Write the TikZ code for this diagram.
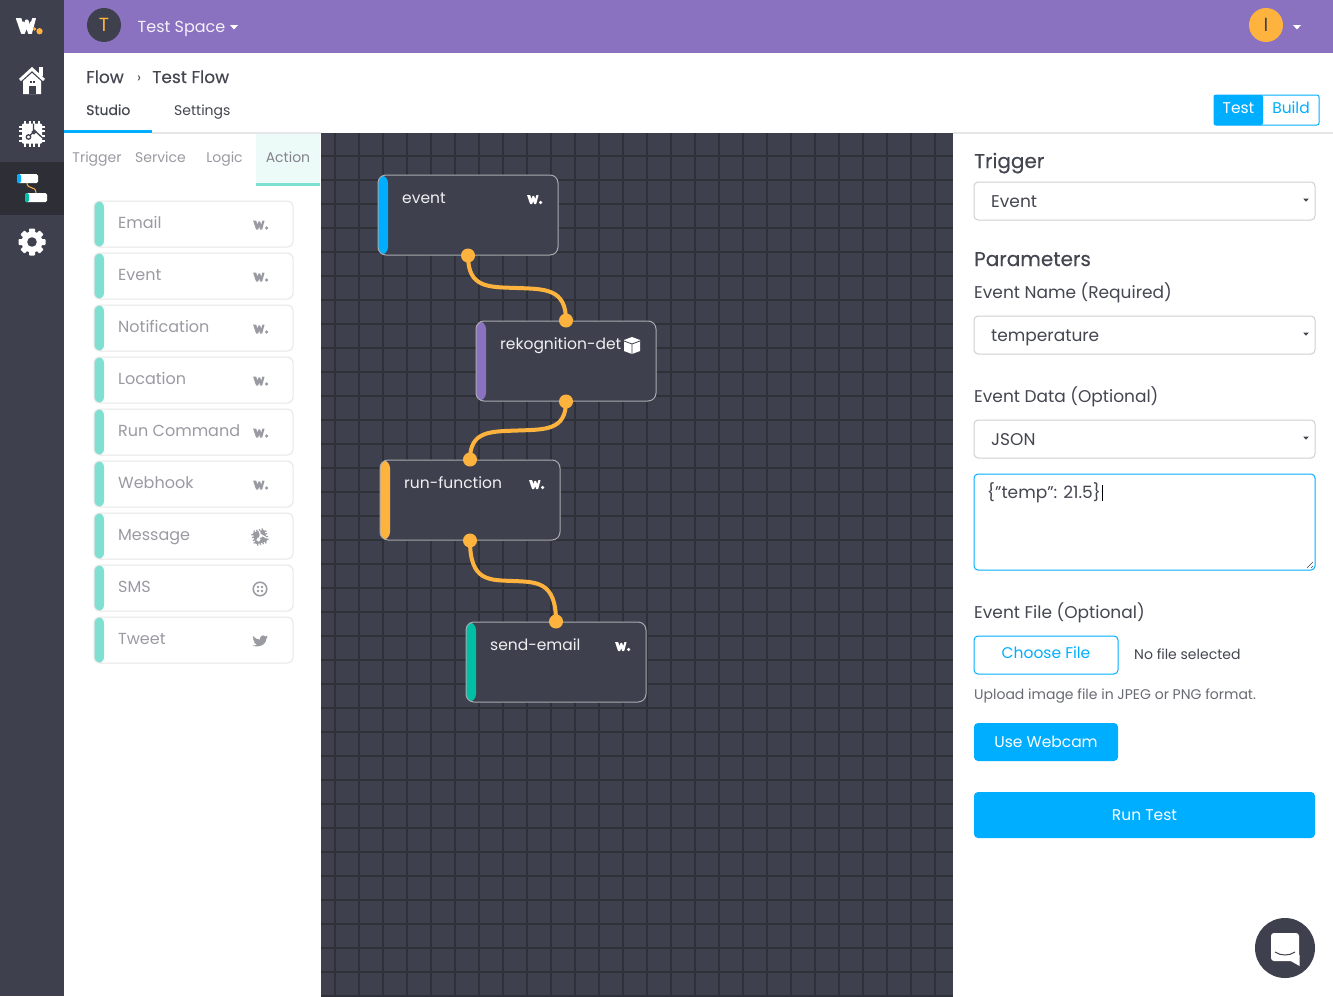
\documentclass[tikz,border=0pt]{standalone}
\usepackage{fontspec}
\setmainfont{Poppins}
\newfontfamily\midfont[FakeBold=0.3]{Poppins}
\usetikzlibrary{calc}

\begin{document}
\begin{tikzpicture}[
    x=1pt, y=-1pt,
    font=\fontsize{16}{19}\selectfont,
    txt/.style={
    	anchor=base west, inner sep=0pt, text=my-ink
    }, listtxt/.style={
    	txt, text=my-grey, font=\fontsize{16}{19}\selectfont
    }, tabtxt/.style={
    	anchor=base, inner sep=0pt, text=my-grey, font=\fontsize{14}{17}\selectfont
    }, formtxt/.style={
    	txt, font=\fontsize{17}{20}\selectfont
    }, cardtxt/.style={
    	txt, text=white!92!my-slate, font=\fontsize{15.5}{19}\selectfont
    }, strip/.style 2 args={
    	path picture={\fill[#1] (path picture bounding box.north west) rectangle ([xshift=#2]path picture bounding box.south west);}
    }, card/.style={
    	draw=my-edge, fill=my-slate, rounded corners=8pt, line width=1pt,
    	minimum width=180pt, minimum height=80pt, inner sep=0pt, strip={#1}{10pt}
    }, item/.style={
    	draw=my-line, fill=white, rounded corners=6pt, line width=1pt,
    	minimum width=199pt, minimum height=46pt, inner sep=0pt, strip={my-teal}{10pt}
    }, field/.style={
    	draw=my-field, fill=white, rounded corners=4pt, line width=1pt,
    	minimum width=341pt, minimum height=38pt, inner sep=0pt
    }, bluebtn/.style={
    	fill=my-blue, rounded corners=4pt, inner sep=0pt, text=white,
    	font=\fontsize{15.5}{19}\selectfont
    }, port/.style={
    	circle, fill=my-orange, minimum size=14pt, inner sep=0pt
    }, wire/.style={
    	draw=my-orange, line width=4pt
    }, avatar/.style={
    	circle, minimum size=34pt, inner sep=0pt, font=\fontsize{19}{22}\selectfont
    }, pics/wmark/.style 2 args={code={
    	\path[fill=#1, rounded corners=.4pt] (-7,-4.5) -- (-3.8,-4.5) -- (-2.6,-.4) -- (-1.5,-3.6) -- (.1,-3.6) -- (1.2,-.4) -- (2.4,-4.5) -- (4.6,-4.5) -- (2.2,4.5) -- (.1,4.5) -- (-.8,1.5) -- (-1.8,4.5) -- (-3.9,4.5) -- cycle;
    	\fill[#2] (6.6,3) circle (1.8);
    }}, pics/caret/.style={code={
    	\fill[#1] (-4,-2) -- (4,-2) -- (0,2.5) -- cycle;
    }}, pics/chip/.style 2 args={code={
    	\fill[#1, rounded corners=1pt] (-10,-10) rectangle (10,10);
    	\foreach \p in {-7,-2.4,2.4,7} {
    		\fill[#1] (\p-1,-13) rectangle (\p+1,13);
    		\fill[#1] (-13,\p-1) rectangle (13,\p+1);
    	}
    	\draw[#2, line width=1.3pt] (1.5,-10) -- (1.5,-4) -- (10,4);
    	\draw[#2, line width=1.3pt] (-3.5,3.5) circle (2.2);
    	\draw[#2, line width=1.3pt] (-2,2) -- (2,-2);
    	\draw[#2, line width=1.3pt] (2,-1.5) circle (1.6);
    }}]
    \definecolor{my-slate}{HTML}{3E414D}
    \definecolor{my-dark}{HTML}{2E2E36}
    \definecolor{my-gridline}{HTML}{2F3138}
    \definecolor{my-purple}{HTML}{8B72C1}
    \definecolor{my-blue}{HTML}{00AEFF}
    \definecolor{my-teal}{HTML}{7FDFD0}
    \definecolor{my-green}{HTML}{00BFA5}
    \definecolor{my-orange}{HTML}{FFB33F}
    \definecolor{my-ink}{HTML}{444650}
    \definecolor{my-grey}{HTML}{9A9AA3}
    \definecolor{my-line}{HTML}{E6E6E8}
    \definecolor{my-field}{HTML}{CFCFD3}
    \definecolor{my-edge}{HTML}{A9AAB0}

    \useasboundingbox (0,0) rectangle (1333,996);
    \fill[white] (0,0) rectangle (1333,996);

    % panels
    \fill[my-slate] (0,0) rectangle (64,996);
    \fill[my-dark] (0,162) rectangle (64,215);
    \fill[my-purple] (64,0) rectangle (1333,53);
    \fill[my-slate] (321,133) rectangle (953,996);
    \draw[my-gridline, line width=2pt, xstep=24pt, ystep=24pt, shift={(334.5,156)}] (-13.5,-23) grid (618.5,840);
    \fill[my-line] (152,132) rectangle (321,134);
    \fill[my-line] (953,132) rectangle (1333,134);
    \fill[my-blue] (64,130) rectangle (152,133);
    \fill[my-teal!15] (256,134) rectangle (320,183);
    \fill[my-teal] (256,183) rectangle (320,186);

    % sidebar icons
    \pic at (28,26) {wmark={white}{my-orange}};
    \path (28,26) pic[scale=1.75] {wmark={white}{my-orange}};
    \draw[white, line width=3pt] (20,80) -- (32,69) -- (44,80);
    \fill[white] (39,67) rectangle (43,76);
    \fill[white] (23,81) -- (32,73) -- (41,81) -- (41,94) -- (23,94) -- cycle;
    \fill[my-slate] (28.5,86) rectangle (35.5,94);
    \fill[my-slate] (29.5,80.5) rectangle (31.5,82.5);
    \fill[my-slate] (32.5,80.5) rectangle (34.5,82.5);
    \pic at (32,133.5) {chip={white}{my-slate}};
    \fill[white, rounded corners=1.5pt] (17,174) rectangle (38,183);
    \fill[my-blue, rounded corners=1.5pt] (17,174) rectangle (21,183);
    \fill[white, rounded corners=1.5pt] (25,193) rectangle (47,202);
    \fill[my-green, rounded corners=1.5pt] (25,193) rectangle (29,202);
    \draw[my-orange, line width=1pt] (27,183) .. controls (27,190) and (36,185) .. (36,193);
    \foreach \a in {0,45,...,315} {
    	\fill[white, rotate around={\a:(32,242)}, rounded corners=.8pt] (29,228.5) rectangle (35,236);
    }
    \fill[white] (32,242) circle (10.5);
    \fill[my-slate] (32,242) circle (4.8);

    % header
    \node[avatar, fill=my-slate, text=my-orange] (space-avatar) at (104,25) {T};
    \node[txt, text=white!90!my-purple] (space-name) at (137.5,32) {Test Space};
    \pic at (234,27) {caret=white};
    \node[avatar, fill=my-orange, text=my-slate] (user-avatar) at (1266,25) {I};
    \pic at (1297,27) {caret=white};
    \node[txt, font=\midfont\fontsize{17}{20}\selectfont] (crumb-flow) at (86,83) {Flow};
    \node[txt, font=\fontsize{14}{17}\selectfont] (crumb-sep) at (137,82) {›};
    \node[txt, font=\midfont\fontsize{17}{20}\selectfont] (crumb-test) at (152,83) {Test Flow};
    \node[txt, font=\midfont\fontsize{14}{17}\selectfont] (studio) at (86,115) {Studio};
    \node[txt, font=\fontsize{14}{17}\selectfont] (settings) at (174,115) {Settings};
    \node[draw=my-blue, fill=white, rounded corners=2pt, line width=1pt, minimum width=105pt, minimum height=30pt, inner sep=0pt, strip={my-blue}{49pt}] (mode) at (1266.5,110) {};
    \node[anchor=base, inner sep=0pt, text=white, font=\fontsize{15.5}{19}\selectfont] (mode-test) at (1238.5,113) {Test};
    \node[anchor=base, inner sep=0pt, text=my-blue, font=\fontsize{15.5}{19}\selectfont] (mode-build) at (1291,113) {Build};

    % block tabs
    \node[tabtxt] (tab-trigger) at (97,162.5) {Trigger};
    \node[tabtxt] (tab-service) at (160.5,162.5) {Service};
    \node[tabtxt] (tab-logic) at (224.5,162.5) {Logic};
    \node[tabtxt, text=my-grey!85!black] (tab-action) at (288,162.5) {Action};

    % block list
    \node[item] (email) at (193.5,224) {};
    \node[listtxt] (email-txt) at (118,228) {Email};
    \pic at (260,225) {wmark={my-grey}{my-grey}};
    \node[item] (event-item) at (193.5,276) {};
    \node[listtxt] (event-txt) at (118,280) {Event};
    \pic at (260,277) {wmark={my-grey}{my-grey}};
    \node[item] (notification) at (193.5,328) {};
    \node[listtxt] (notification-txt) at (118,332) {Notification};
    \pic at (260,329) {wmark={my-grey}{my-grey}};
    \node[item] (location) at (193.5,380) {};
    \node[listtxt] (location-txt) at (118,384) {Location};
    \pic at (260,381) {wmark={my-grey}{my-grey}};
    \node[item] (command) at (193.5,432) {};
    \node[listtxt] (command-txt) at (118,436) {Run Command};
    \pic at (260,433) {wmark={my-grey}{my-grey}};
    \node[item] (webhook) at (193.5,484) {};
    \node[listtxt] (webhook-txt) at (118,488) {Webhook};
    \pic at (260,485) {wmark={my-grey}{my-grey}};
    \node[item] (message) at (193.5,536) {};
    \node[listtxt] (message-txt) at (118,540) {Message};
    \pic[scale=.6, rotate=15] at (260,537) {chip={my-grey}{white}};
    \node[item] (sms) at (193.5,588) {};
    \node[listtxt] (sms-txt) at (118,592) {SMS};
    \draw[my-grey, line width=1.5pt] (260,589) circle (6.8);
    \fill[my-grey] (258,587) circle (1.4) (262,587) circle (1.4) (258,591) circle (1.4) (262,591) circle (1.4);
    \node[item] (tweet) at (193.5,640) {};
    \node[listtxt] (tweet-txt) at (118,644) {Tweet};
    \fill[my-grey, shift={(260,641)}] (-7,-5) .. controls (-4,-2) and (-2,-1.5) .. (0,-1.5) .. controls (-.5,-5) and (3.5,-7) .. (5.5,-4.5) -- (7.5,-5.5) -- (6.5,-3.5) -- (7.5,-3.8) -- (6.5,-2.5) .. controls (6.5,3) and (0,7.5) .. (-7.5,4.5) .. controls (-5,4.8) and (-3.5,4) .. (-3,3) .. controls (-5,3) and (-6,2) .. (-6,.8) -- (-5,.6) .. controls (-6.5,0) and (-7,-1.5) .. (-7,-2.5) -- (-5.5,-2) .. controls (-7,-3) and (-7.5,-4) .. (-7,-5) -- cycle;

    % flow cards
    \node[card=my-blue] (event) at (468,215) {};
    \node[cardtxt] (event-name) at (402,203) {event};
    \pic at (534,199.5) {wmark={white}{white}};
    \node[card=my-purple] (rekognition) at (566,361) {};
    \node[cardtxt] (rekognition-name) at (500,349) {rekognition-det};
    \fill[white] (624,340) -- (632,337) -- (640,340) -- (640,351) -- (632,354) -- (624,351) -- cycle;
    \draw[my-slate, line width=.8pt] (624,341) -- (632,344) -- (640,341) (632,344) -- (632,354);
    \node[card=my-orange] (runfunction) at (470,500) {};
    \node[cardtxt] (runfunction-name) at (404,488) {run-function};
    \pic at (536,484.5) {wmark={white}{white}};
    \node[card=my-green] (sendemail) at (556,662) {};
    \node[cardtxt] (sendemail-name) at (490,650) {send-email};
    \pic at (622,646.5) {wmark={white}{white}};

    \node[port] (event-out) at (event.south) {};
    \node[port] (rekognition-in) at (rekognition.north) {};
    \node[port] (rekognition-out) at (rekognition.south) {};
    \node[port] (runfunction-in) at (runfunction.north) {};
    \node[port] (runfunction-out) at (runfunction.south) {};
    \node[port] (sendemail-in) at (sendemail.north) {};

    \draw[wire] (event-out.center) .. controls +(0,33) and +(-28,-1) .. ($(event-out)!.5!(rekognition-in)$) .. controls +(28,1) and +(0,-32) .. (rekognition-in.center);
    \draw[wire] (rekognition-out.center) .. controls +(0,29) and +(27,-1) .. ($(rekognition-out)!.5!(runfunction-in)$) .. controls +(-27,1) and +(0,-29) .. (runfunction-in.center);
    \draw[wire] (runfunction-out.center) .. controls +(0,41) and +(-24,-1) .. ($(runfunction-out)!.5!(sendemail-in)$) .. controls +(24,1) and +(0,-40) .. (sendemail-in.center);

    % test form
    \node[txt, font=\midfont\fontsize{20}{24}\selectfont] (trigger-title) at (974,168) {Trigger};
    \node[field] (trigger-field) at (1144.5,201) {};
    \node[formtxt] (trigger-value) at (991,207) {Event};
    \pic[scale=.7] at (1306,200) {caret=my-ink};
    \node[txt, font=\midfont\fontsize{20}{24}\selectfont] (parameters) at (974,266) {Parameters};
    \node[formtxt] (name-label) at (974,298) {Event Name (Required)};
    \node[field] (name-field) at (1144.5,335) {};
    \node[formtxt] (name-value) at (991,341) {temperature};
    \pic[scale=.7] at (1306,334) {caret=my-ink};
    \node[formtxt] (data-label) at (974,402) {Event Data (Optional)};
    \node[field] (data-field) at (1144.5,439) {};
    \node[formtxt] (data-value) at (991,445) {JSON};
    \pic[scale=.7] at (1306,438) {caret=my-ink};
    \node[field, draw=my-blue, minimum height=96pt] (data-area) at (1144.5,522) {};
    \node[formtxt] (data-text) at (987,498) {\{"temp": 21.5\}};
    \draw[black, line width=.7pt] ($(data-text.base east)+(1,-13)$) -- ($(data-text.base east)+(1,3)$);
    \draw[my-ink, line width=.5pt] (1307,568) -- (1313,562) (1311,568) -- (1313,566);
    \node[formtxt] (file-label) at (974,618) {Event File (Optional)};
    \node[field, draw=my-blue, minimum width=144pt] (file-btn) at (1046,655) {};
    \node[anchor=base, inner sep=0pt, text=my-blue, font=\fontsize{15.5}{19}\selectfont] (file-txt) at (1046,658) {Choose File};
    \node[txt, font=\fontsize{14}{17}\selectfont] (file-state) at (1134,659) {No file selected};
    \node[txt, text=my-ink!80, font=\fontsize{14}{17}\selectfont] (file-hint) at (974,699) {Upload image file in JPEG or PNG format.};
    \node[bluebtn, minimum width=144pt, minimum height=38pt] (webcam) at (1046,742) {Use Webcam};
    \node[bluebtn, minimum width=341pt, minimum height=46pt] (run-test) at (1144.5,815) {Run Test};

    % chat button
    \fill[my-slate] (1285,948) circle (30);
    \fill[white, rounded corners=3pt] (1271,933) rectangle (1299,961);
    \fill[white] (1289,960) -- (1299.5,966) -- (1299.5,955) -- cycle;
    \draw[my-slate, line width=1pt] (1275,952) .. controls (1281,956) and (1289,956) .. (1295,952);
\end{tikzpicture}
\end{document}
